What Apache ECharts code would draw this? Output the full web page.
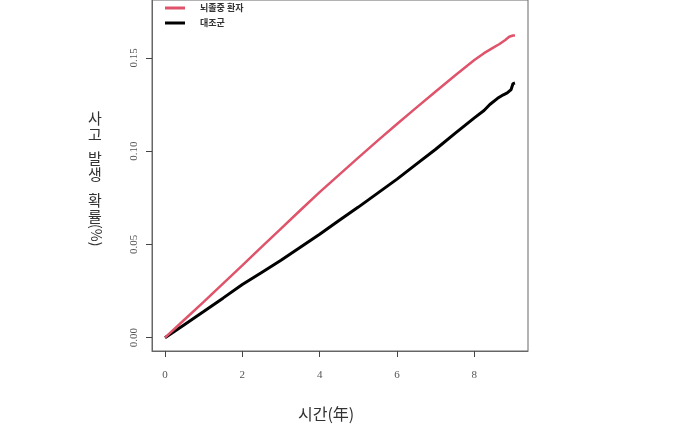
<!DOCTYPE html>
<html>
<head>
<meta charset="utf-8">
<script src="https://cdn.jsdelivr.net/npm/echarts@6/dist/echarts.min.js"></script>
<style>html,body{margin:0;padding:0;background:#fff;}#c{width:700px;height:440px;}</style>
</head>
<body>
<div id="c"></div>
<script>
const seriesNames = ['뇌졸중 환자', '대조군'];
const strokeTimes = [0,0.5,1,1.5,2,2.5,3,3.5,4,4.5,5,5.5,6,6.5,7,7.5,8,8.25,8.5,8.65,8.8,8.9,9.0,9.05];
const strokeValues = [0,0.0096,0.0192,0.0290,0.0388,0.0487,0.0585,0.0683,0.0780,0.0873,0.0965,0.1056,0.1145,0.1233,0.1320,0.1405,0.1488,0.1525,0.1556,0.1574,0.1596,0.1613,0.1620,0.1620];
const controlTimes = [0,0.5,1,1.5,2,2.5,3,3.5,4,4.5,5,5.5,6,6.5,7,7.5,8,8.25,8.4,8.6,8.75,8.85,8.95,9.0,9.05];
const controlValues = [0,0.0070,0.0140,0.0212,0.0285,0.0350,0.0415,0.0485,0.0555,0.0628,0.0700,0.0775,0.0850,0.0930,0.1010,0.1095,0.1178,0.1218,0.1250,0.1283,0.1302,0.1312,0.1330,0.1362,0.1365];
const xTicks = [0,2,4,6,8];
const yTicks = [0,0.05,0.10,0.15];

const chart = echarts.init(document.getElementById('c'));
const pairs = (ts, vs) => ts.map((t,i)=>[t, vs[i]]);
const tickFont = {fontFamily:'Liberation Serif', fontSize:11, color:'#555'};
const X_MIN = -0.336, X_MAX = 9.387, Y_MIN = -0.00713, Y_MAX = 0.181;
const tickStyle = {length:6, lineStyle:{color:'#444', width:1}};
chart.setOption({
  animation:false,
  grid:{left:152, right:172, top:0, bottom:89, show:true, borderColor:'#666', borderWidth:1, backgroundColor:'transparent'},
  legend:{
    data:[seriesNames[0], seriesNames[1]],
    orient:'vertical', left:160, top:-3, itemWidth:20, itemHeight:3, itemGap:3,
    icon:'rect',
    textStyle:{fontSize:9, lineHeight:12, fontWeight:'bold', color:'#333', fontFamily:'Noto Sans CJK KR', padding:[0,0,0,10]}
  },
  xAxis:[{
    type:'value', min:X_MIN, max:X_MAX,
    splitLine:{show:false},
    axisLine:{show:true, onZero:false, lineStyle:{color:'#666', width:1}},
    axisTick:{show:true, customValues:xTicks, ...tickStyle},
    axisLabel:{customValues:xTicks, margin:19, ...tickFont, formatter:v=>String(v)}
  },{
    type:'value', min:X_MIN, max:X_MAX, position:'bottom', gridIndex:0,
    splitLine:{show:false},
    axisLine:{show:false, onZero:false},
    axisTick:{show:true, customValues:xTicks, ...tickStyle},
    axisLabel:{show:true, customValues:xTicks, formatter:()=>''}
  }],
  yAxis:[{
    type:'value', min:Y_MIN, max:Y_MAX,
    splitLine:{show:false},
    axisLine:{show:true, onZero:false, lineStyle:{color:'#666', width:1}},
    axisTick:{show:true, customValues:yTicks, ...tickStyle},
    axisLabel:{customValues:yTicks, rotate:90, margin:12, ...tickFont, formatter:v=>v.toFixed(2)}
  },{
    type:'value', min:Y_MIN, max:Y_MAX, position:'left', gridIndex:0,
    splitLine:{show:false},
    axisLine:{show:false, onZero:false},
    axisTick:{show:true, customValues:yTicks, ...tickStyle},
    axisLabel:{show:true, customValues:yTicks, formatter:()=>''}
  }],
  graphic:[
    {type:'text', left:88, top:110, style:{text:'사\n고', font:'15px "Noto Sans CJK KR"', lineHeight:16, fill:'#333'}},
    {type:'text', left:88, top:150, style:{text:'발\n생', font:'15px "Noto Sans CJK KR"', lineHeight:16, fill:'#333'}},
    {type:'text', left:88, top:192, style:{text:'확\n률', font:'15px "Noto Sans CJK KR"', lineHeight:16, fill:'#333'}},
    {type:'text', x:103, y:224, rotation:-Math.PI/2, style:{text:'(%)', font:'14px "Noto Sans CJK KR"', fill:'#333'}},
    {type:'text', left:298, top:406, style:{text:'시간(年)', font:'16px "Noto Sans CJK KR"', fill:'#333'}}
  ],
  series:[
    {name:seriesNames[1], type:'line', xAxisIndex:0, yAxisIndex:0, data:pairs(controlTimes, controlValues), showSymbol:false, lineStyle:{color:'#000', width:3}, itemStyle:{color:'#000'}},
    {name:seriesNames[0], type:'line', xAxisIndex:0, yAxisIndex:0, data:pairs(strokeTimes, strokeValues), showSymbol:false, lineStyle:{color:'#DF536B', width:2.5}, itemStyle:{color:'#DF536B'}}
  ]
});
</script>
</body>
</html>
